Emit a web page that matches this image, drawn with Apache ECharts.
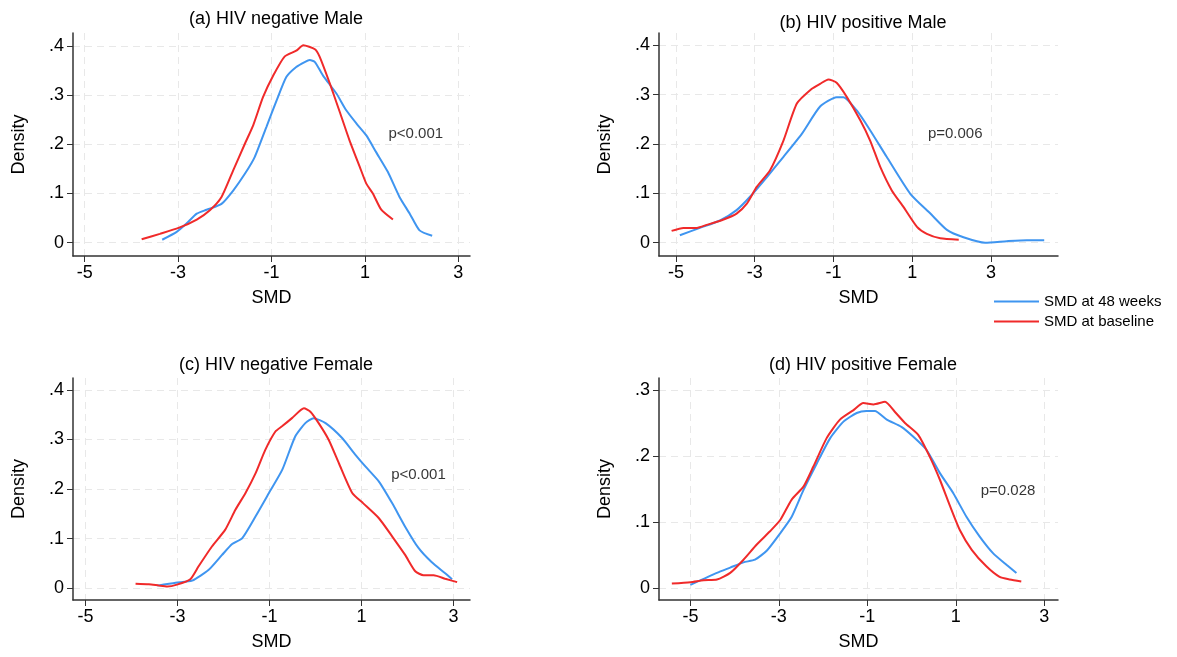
<!DOCTYPE html>
<html lang="en">
<head>
    <meta charset="UTF-8">
    <title>SMD density</title>
    <style>
        *{ padding:0; margin:0; }
        html, body { background:#fff; }
    </style>
    <script type="text/javascript" src="https://cdn.jsdelivr.net/npm/echarts@6/dist/echarts.min.js"></script>
</head>
<body>
    <div id="main" style="width:1177px;height:657px;"></div>
    <script type="text/javascript">
        // ---- data: [SMD, density] ----
        var aBlue = [[-3.34,0.006],[-3.03,0.022],[-2.82,0.039],[-2.60,0.059],[-2.39,0.067],[-2.07,0.079],[-1.82,0.106],[-1.57,0.140],[-1.36,0.174],[-1.11,0.235],[-0.89,0.289],[-0.68,0.337],[-0.47,0.357],[-0.29,0.367],[-0.18,0.371],[-0.07,0.367],[0.10,0.340],[0.39,0.303],[0.60,0.269],[0.82,0.242],[1.03,0.218],[1.24,0.184],[1.49,0.144],[1.74,0.093],[1.96,0.059],[2.17,0.025],[2.44,0.014]];
        var aRed = [[-3.78,0.007],[-3.39,0.018],[-2.99,0.030],[-2.60,0.047],[-2.32,0.066],[-2.07,0.093],[-1.82,0.147],[-1.57,0.201],[-1.39,0.239],[-1.18,0.296],[-0.96,0.340],[-0.72,0.378],[-0.47,0.390],[-0.32,0.401],[-0.07,0.393],[0.03,0.378],[0.25,0.323],[0.46,0.266],[0.67,0.208],[0.89,0.154],[1.03,0.120],[1.17,0.100],[1.35,0.067],[1.60,0.047]];

        var bBlue = [[-4.90,0.015],[-4.39,0.030],[-3.88,0.045],[-3.46,0.066],[-3.12,0.093],[-2.69,0.133],[-2.27,0.174],[-1.80,0.221],[-1.34,0.276],[-0.92,0.295],[-0.75,0.295],[-0.41,0.268],[-0.07,0.228],[0.35,0.174],[0.95,0.099],[1.46,0.059],[1.88,0.026],[2.30,0.011],[2.85,0.000],[3.40,0.003],[3.91,0.005],[4.35,0.005]];
        var bRed = [[-5.11,0.024],[-4.81,0.030],[-4.47,0.030],[-4.22,0.036],[-3.79,0.047],[-3.46,0.059],[-3.20,0.079],[-2.95,0.113],[-2.61,0.147],[-2.27,0.207],[-1.93,0.282],[-1.55,0.312],[-1.34,0.322],[-1.13,0.331],[-0.92,0.324],[-0.66,0.295],[-0.32,0.248],[-0.07,0.207],[0.19,0.153],[0.48,0.106],[0.78,0.072],[1.12,0.032],[1.37,0.018],[1.71,0.009],[2.18,0.006]];

        var cBlue = [[-3.44,0.005],[-3.04,0.011],[-2.68,0.015],[-2.32,0.037],[-2.03,0.067],[-1.81,0.089],[-1.59,0.101],[-1.30,0.145],[-1.01,0.192],[-0.72,0.239],[-0.44,0.306],[-0.22,0.333],[-0.04,0.343],[0.22,0.333],[0.58,0.303],[0.87,0.269],[1.09,0.245],[1.38,0.215],[1.67,0.171],[1.95,0.124],[2.24,0.081],[2.53,0.052],[2.82,0.030],[2.97,0.018]];
        var cRed = [[-3.91,0.009],[-3.62,0.008],[-3.40,0.005],[-3.22,0.003],[-3.01,0.007],[-2.72,0.018],[-2.54,0.044],[-2.25,0.084],[-1.96,0.118],[-1.74,0.158],[-1.52,0.192],[-1.30,0.232],[-1.09,0.279],[-0.87,0.316],[-0.72,0.327],[-0.51,0.343],[-0.25,0.363],[-0.11,0.356],[0.07,0.333],[0.29,0.299],[0.51,0.252],[0.80,0.192],[1.04,0.171],[1.38,0.141],[1.67,0.104],[1.95,0.067],[2.17,0.034],[2.35,0.026],[2.57,0.026],[2.82,0.019],[3.08,0.012]];

        var dBlue = [[-5.00,0.005],[-4.70,0.014],[-4.40,0.023],[-4.10,0.031],[-3.80,0.039],[-3.54,0.043],[-3.27,0.057],[-2.97,0.083],[-2.71,0.108],[-2.44,0.149],[-2.14,0.189],[-1.84,0.227],[-1.54,0.252],[-1.24,0.265],[-1.02,0.268],[-0.83,0.268],[-0.56,0.255],[-0.23,0.244],[0.04,0.229],[0.34,0.209],[0.64,0.174],[0.94,0.144],[1.24,0.108],[1.54,0.078],[1.84,0.053],[2.15,0.035],[2.37,0.023]];
        var dRed = [[-5.42,0.007],[-5.00,0.009],[-4.70,0.012],[-4.40,0.013],[-4.10,0.023],[-3.80,0.043],[-3.50,0.066],[-3.20,0.086],[-2.97,0.103],[-2.71,0.134],[-2.44,0.154],[-2.22,0.184],[-1.92,0.227],[-1.62,0.255],[-1.32,0.269],[-1.09,0.280],[-0.86,0.278],[-0.60,0.282],[-0.38,0.267],[-0.15,0.250],[0.15,0.232],[0.41,0.199],[0.64,0.164],[0.87,0.124],[1.09,0.088],[1.36,0.058],[1.69,0.033],[1.99,0.017],[2.22,0.013],[2.48,0.010]];

        var panelTitles = ['(a) HIV negative Male', '(b) HIV positive Male', '(c) HIV negative Female', '(d) HIV positive Female'];
        var pTexts = ['p<0.001', 'p=0.006', 'p<0.001', 'p=0.028'];
        var pPos = [[2.09, 0.222], [2.09, 0.220], [2.24, 0.228], [2.18, 0.147]];
        var xTicks = [-5, -3, -1, 1, 3];
        var yTicks4 = [0, 0.1, 0.2, 0.3, 0.4];
        var yTicks3 = [0, 0.1, 0.2, 0.3];
        var seriesNames = ['SMD at 48 weeks', 'SMD at baseline'];

        var BLUE = '#3f95f0', RED = '#f02a2a';
        var FONT = 'Liberation Sans';
        var INK = '#000';

        // layout of each panel (pixels) and axis ranges
        var panels = [
            { grid: { left: 73, top: 33, width: 397, height: 223 }, xr: [-5.25, 3.25], yr: [-0.027, 0.426], yt: yTicks4, blue: aBlue, red: aRed, tx: 271, ty: 5 },
            { grid: { left: 659, top: 33, width: 399, height: 223 }, xr: [-5.43, 4.7], yr: [-0.027, 0.425], yt: yTicks4, blue: bBlue, red: bRed, tx: 858, ty: 9 },
            { grid: { left: 73, top: 378, width: 397, height: 222 }, xr: [-5.27, 3.36], yr: [-0.024, 0.424], yt: yTicks4, blue: cBlue, red: cRed, tx: 271, ty: 351 },
            { grid: { left: 659, top: 378, width: 399, height: 222 }, xr: [-5.71, 3.31], yr: [-0.018, 0.318], yt: yTicks3, blue: dBlue, red: dRed, tx: 858, ty: 351 }
        ];

        function yFmt(v) {
            if (v === 0) return '0';
            return String(+v.toFixed(2)).replace(/^0/, '');
        }

        var option = {
            animation: false,
            textStyle: { fontFamily: FONT },
            title: [],
            grid: [],
            xAxis: [],
            yAxis: [],
            series: [],
            legend: {
                orient: 'vertical',
                left: 993,
                top: 294,
                padding: 0,
                itemWidth: 45,
                itemHeight: 14,
                itemGap: 5,
                itemStyle: { opacity: 0 },
                data: seriesNames,
                textStyle: { fontSize: 15, color: INK, fontFamily: FONT }
            }
        };

        panels.forEach(function (p, i) {
            option.title.push({
                text: panelTitles[i],
                left: p.tx,
                top: p.ty,
                textAlign: 'center',
                textStyle: { fontSize: 18, fontWeight: 'normal', color: INK, fontFamily: FONT }
            });
            option.grid.push(p.grid);
            option.xAxis.push({
                type: 'value',
                gridIndex: i,
                min: p.xr[0],
                max: p.xr[1],
                name: 'SMD',
                nameLocation: 'middle',
                nameGap: 33,
                nameTextStyle: { fontSize: 18, color: INK, fontFamily: FONT },
                axisLine: { onZero: false, lineStyle: { color: '#333', width: 1.5 } },
                axisTick: { customValues: xTicks, length: 6, lineStyle: { color: '#333' } },
                axisLabel: { customValues: xTicks, margin: 8, fontSize: 18, color: INK, fontFamily: FONT },
                splitLine: { show: true, lineStyle: { color: '#e8e8e8', type: [7, 5] } }
            });
            option.yAxis.push({
                type: 'value',
                gridIndex: i,
                min: p.yr[0],
                max: p.yr[1],
                name: 'Density',
                nameLocation: 'middle',
                nameGap: 45,
                nameTextStyle: { fontSize: 18, color: INK, fontFamily: FONT },
                axisLine: { show: true, onZero: false, lineStyle: { color: '#333', width: 1.5 } },
                axisTick: { show: true, customValues: p.yt, length: 6, lineStyle: { color: '#333' } },
                axisLabel: { customValues: p.yt, margin: 9, fontSize: 18, color: INK, fontFamily: FONT, formatter: yFmt },
                splitLine: { show: true, lineStyle: { color: '#e8e8e8', type: [7, 5] } }
            });
            option.series.push({
                name: seriesNames[0], type: 'line', xAxisIndex: i, yAxisIndex: i,
                data: p.blue, smooth: 0.2, symbol: 'none', color: BLUE,
                lineStyle: { width: 2, color: BLUE }
            });
            option.series.push({
                name: seriesNames[1], type: 'line', xAxisIndex: i, yAxisIndex: i,
                data: p.red, smooth: 0.2, symbol: 'none', color: RED,
                lineStyle: { width: 2, color: RED }
            });
            // p-value annotation placed in data coordinates
            option.series.push({
                type: 'scatter', xAxisIndex: i, yAxisIndex: i, silent: true,
                symbolSize: 0,
                data: [pPos[i]],
                label: {
                    show: true, position: 'inside', formatter: pTexts[i],
                    fontSize: 15, color: INK, fontFamily: FONT
                }
            });
        });

        var myChart = echarts.init(document.getElementById('main'));
        myChart.setOption(option);
    </script>
</body>
</html>
